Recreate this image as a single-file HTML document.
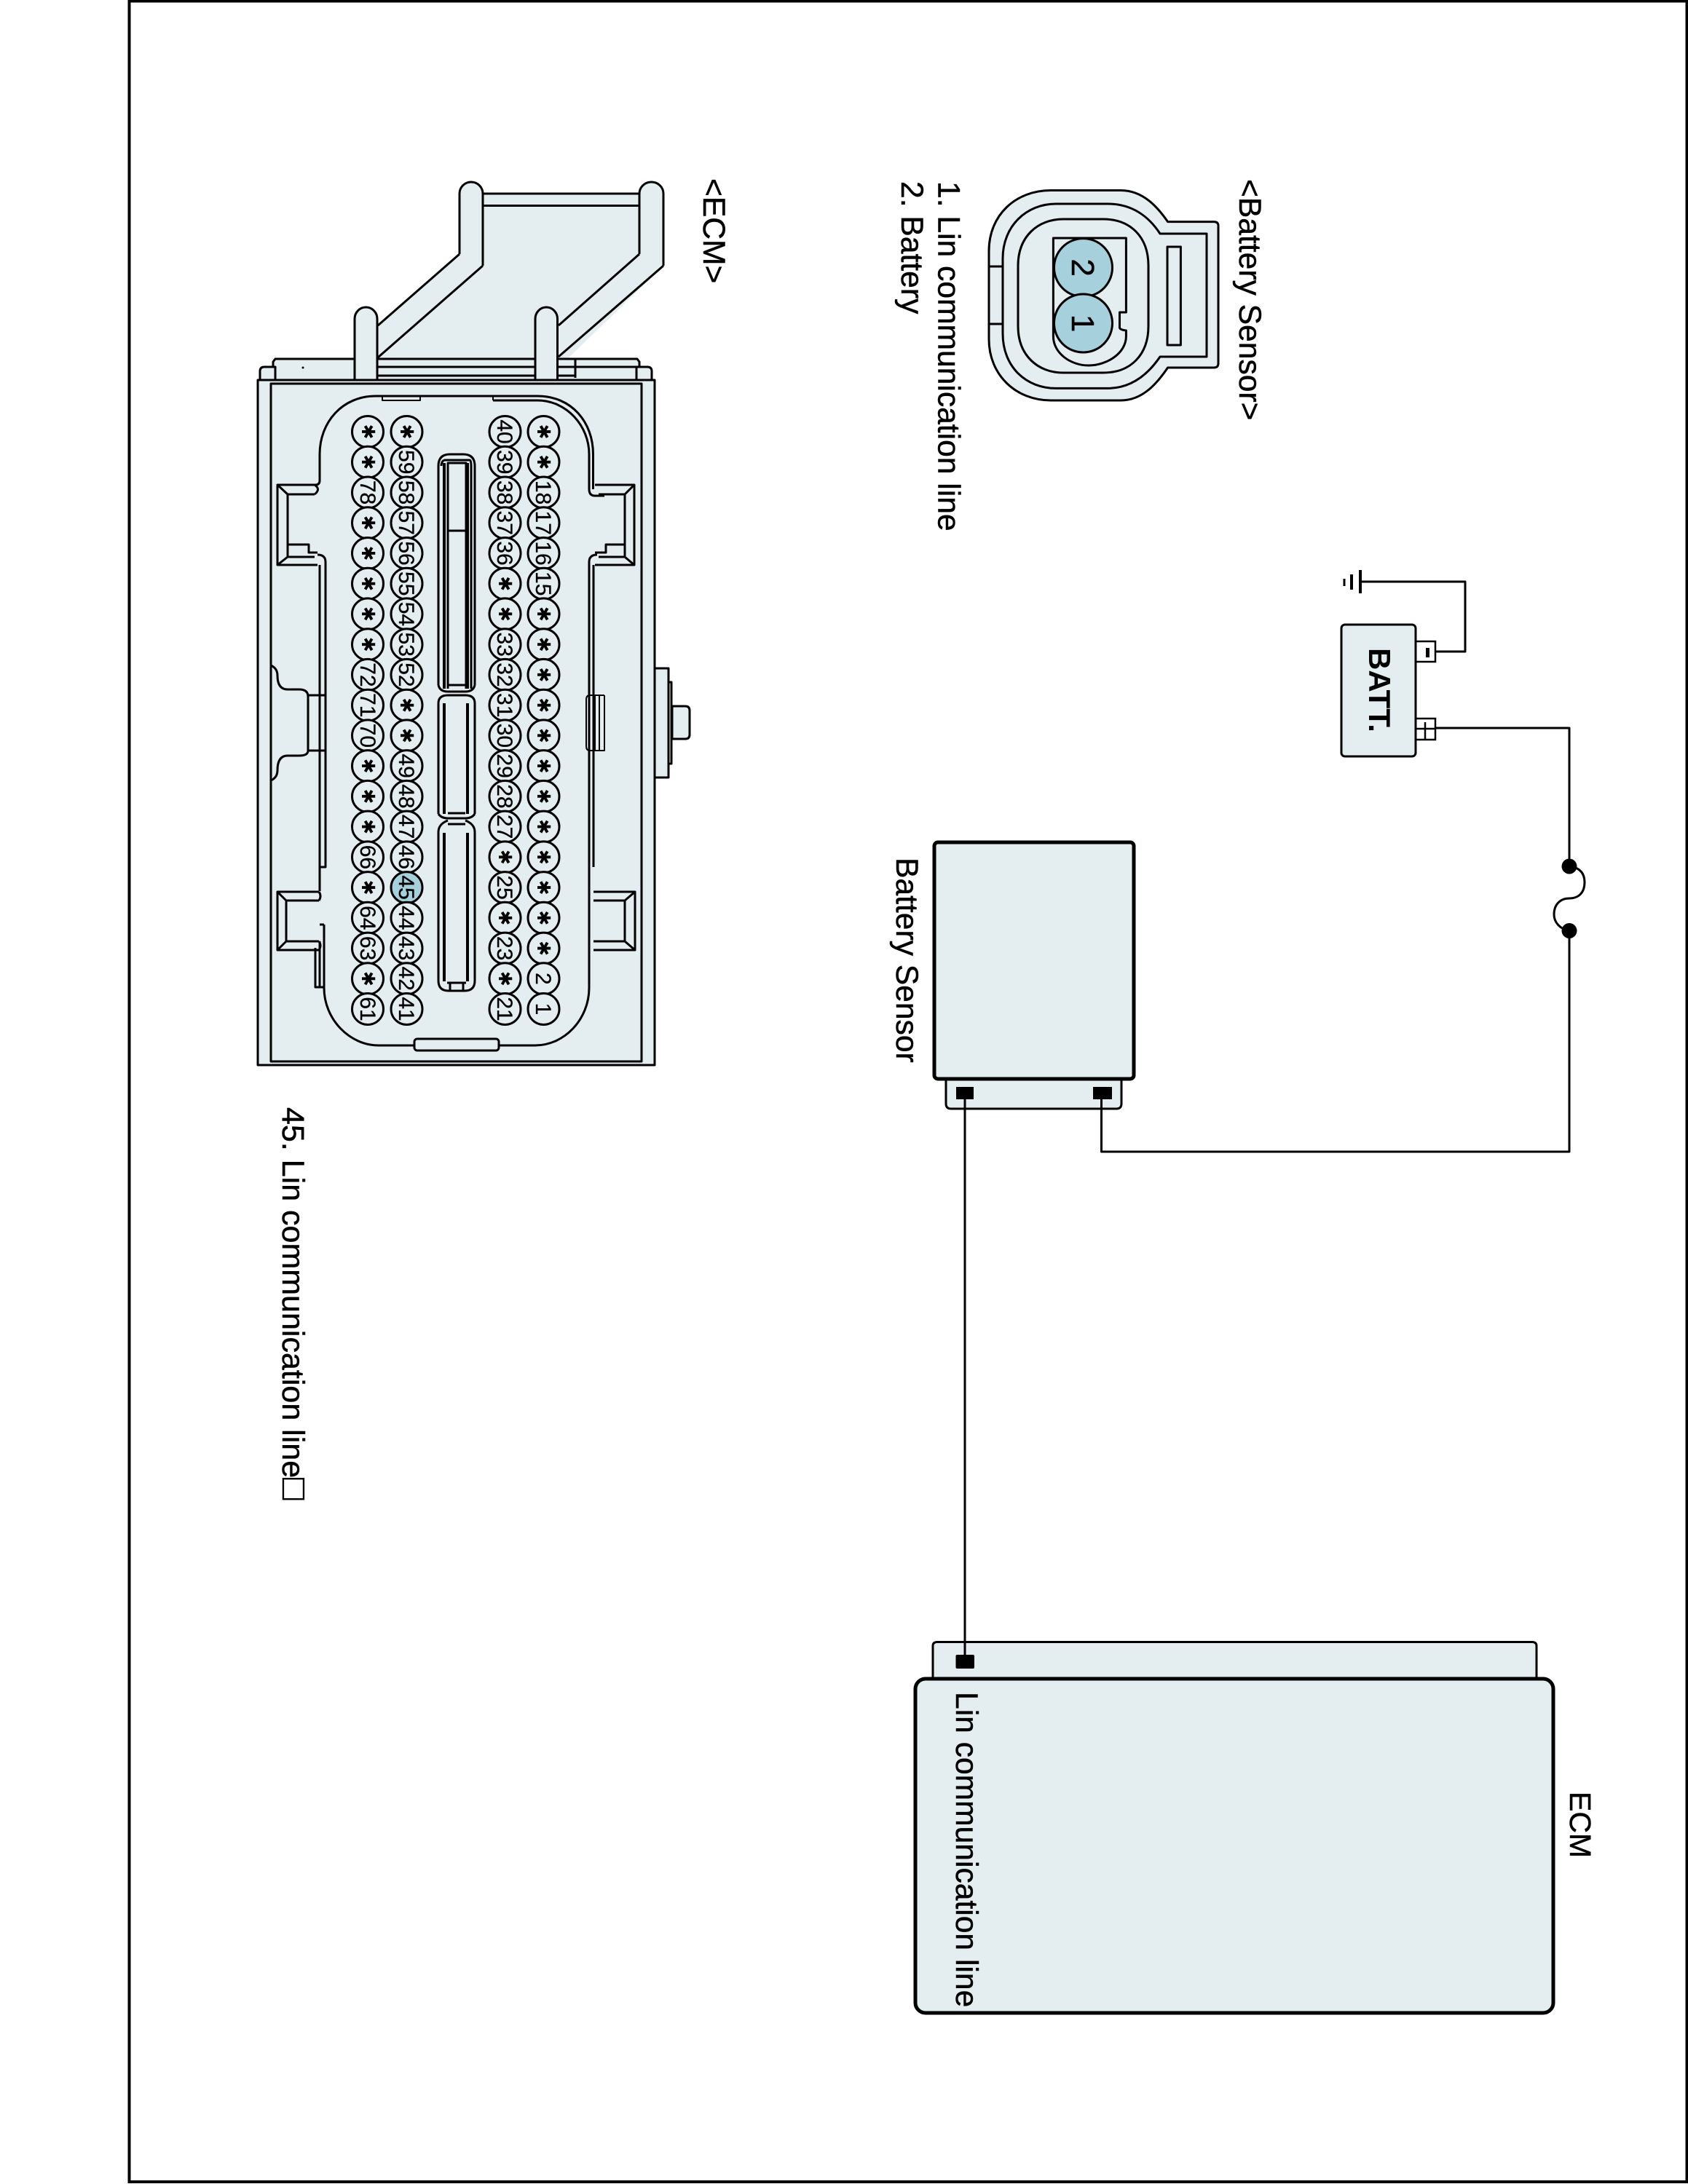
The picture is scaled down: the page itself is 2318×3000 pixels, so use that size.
<!DOCTYPE html>
<html><head><meta charset="utf-8"><title>Battery Sensor circuit</title>
<style>
html,body{margin:0;padding:0;background:#fff;width:2318px;height:3000px;overflow:hidden}
svg{display:block}
text{font-family:"Liberation Sans",sans-serif;fill:#000;stroke:#000;stroke-width:.5}
.l{font-size:42.6px}
.p circle{fill:#e4edef;stroke:#000;stroke-width:3}
.p text{font-size:30px;text-anchor:middle;stroke-width:.3}
.p text.s{font-family:"DejaVu Sans",sans-serif;font-size:25px;stroke-width:0}
.f{fill:#e4edef;stroke:#000;stroke-width:3;stroke-linejoin:round}
.n{fill:none;stroke:#000;stroke-width:3;stroke-linejoin:round}
.h{fill:none;stroke:#000;stroke-width:2;stroke-linejoin:round}
.b{fill:none;stroke:#000;stroke-width:4;stroke-linejoin:round}
</style></head><body>
<svg width="2318" height="3000" viewBox="0 0 2318 3000" xmlns="http://www.w3.org/2000/svg">
<rect x="177.500" y="1.500" width="2139" height="2995.500" fill="none" stroke="#000" stroke-width="4"/>

<!-- Battery sensor connector -->
<path class="f" d="M1358 345C1358 295 1395 261.500 1443 261.500H1539C1570 261.500 1590 285 1603.600 304.600H1667Q1673 304.600 1673 310V499Q1673 505 1667 505H1603.600C1590 525 1570 550 1539 550H1443C1395 550 1358 515 1358 466Z"/>
<path class="n" d="M1377 355C1377 310 1410 280 1450 280H1521C1555 280 1578 298 1593 321H1657V490H1593C1578 512 1555 533.400 1521 533.400H1450C1410 533.400 1377 505 1377 458Z"/>
<path class="n" d="M1398 365C1398 325 1425 301 1460 301H1515C1552 301 1577 325 1577 365V448C1577 488 1552 512 1515 512H1460C1425 512 1398 488 1398 448Z"/>
<path class="n" d="M1358 366H1377M1358 445H1377"/>
<rect class="n" x="1603" y="339" width="18.400" height="135"/>
<path class="n" d="M1446.400 327H1546.400V429H1537.500V450Q1537.500 453 1546.400 454V462C1546.400 485 1520 502 1495 502C1470 502 1446.400 485 1446.400 462Z"/>
<circle cx="1487.500" cy="367.600" r="40" fill="#a5d0dc" stroke="#000" stroke-width="3"/>
<circle cx="1487.500" cy="444" r="40" fill="#a5d0dc" stroke="#000" stroke-width="3"/>
<text transform="translate(1472,367.600) rotate(90)" style="font-size:44px" text-anchor="middle">2</text>
<text transform="translate(1472,444) rotate(90)" style="font-size:44px" text-anchor="middle">1</text>
<text class="l" transform="translate(1702,246) rotate(90)">&lt;Battery Sensor&gt;</text>
<text class="l" transform="translate(1288.500,249) rotate(90)">1. Lin communication line</text>
<text class="l" transform="translate(1238,249) rotate(90)">2. Battery</text>
<text class="l" transform="translate(966,245) rotate(90)">&lt;ECM&gt;</text>

<!-- ECM connector: harness -->
<path d="M631 349L519 447V505H767L911 365V266H663Z" fill="#e4edef"/>
<path class="n" d="M631 349L519 447M663 365L519 491M878 349L767 447M911 365L767 490M663 266H878M663 282.500H878"/>
<path class="f" d="M631 349V266A16 16 0 0 1 663 266V365"/>
<path class="f" d="M878 349V266A16.500 16 0 0 1 911 266V365"/>
<!-- flange -->
<path class="f" d="M375 522V497L378 493H875L878 497V522Z"/>
<path class="f" d="M357 522V510Q357 504 363 504H378V522Z"/>
<path class="f" d="M895 522V510Q895 504 889 504H874V522Z"/>
<path class="n" d="M519 504H874M519 516H790M790 493V519"/>
<circle cx="416" cy="505" r="1.500"/>
<path class="f" d="M487 522V438A15.500 16 0 0 1 518 438V522"/>
<path class="f" d="M735 522V438A15.250 16 0 0 1 765.500 438V522"/>
<!-- side peg -->
<path class="f" d="M923 970H941Q947 970 947 976V1009Q947 1015 941 1015H923Z"/>
<path class="f" d="M899 914V918H918V1068H899V1072"/>
<path class="n" d="M918 937H922V1049H918"/>
<!-- body -->
<rect class="f" x="354" y="522" width="545" height="941"/>
<rect class="n" x="372" y="527" width="509" height="931"/>
<!-- shell -->
<path class="n" d="M436 666H433Q439 666 439 660V624C439 580 470 544 516 544H738C785 544 814.500 580 814.500 624V672"/>
<path class="n" d="M677 550H738C778 550 809 585 809 624V672Q809 681 817 681H830"/>
<path class="h" d="M677 544V550M525 544V550H577V544"/>
<!-- upper windows -->
<path class="n" d="M436 666H381V776H436M432 679H395V765H432M381 666L395 679M381 776L395 765M395 748H424V759H436M432 666Q441 672 432 679"/>
<path class="n" d="M817 666H871V776H817M822 679H858V765H822M871 666L858 679M871 776L858 765M858 748H832V759H817"/>
<!-- side verticals -->
<path class="n" d="M439 776V1224M436 762Q447 762 447 772V1191H439"/>
<path class="n" d="M809 772Q809 762 820 762M809 772V1357M815 776V1191"/>
<!-- lower windows -->
<path class="n" d="M438 1225H381V1305H438M438 1237H393V1293H438M381 1225L393 1237M381 1305L393 1293M438 1225Q442 1231 438 1237M438 1293Q442 1299 438 1305"/>
<path class="n" d="M815 1225H872V1305H815M815 1237H858V1293H815M872 1225L858 1237M872 1305L858 1293"/>
<path class="n" d="M445 1270V1357M439 1270H445M433 1302V1356H445M439 1293V1356"/>
<path class="n" d="M445 1357C445 1400 480 1436 520 1436H569M685 1436H735C775 1436 809 1400 809 1357"/>
<rect class="f" x="569" y="1427" width="116" height="16" rx="4"/>
<!-- left bump -->
<path class="n" d="M372 914Q381 918 381 928Q381 947 395 947H411Q423 947 423 957V1031Q423 1038 411 1038H395Q381 1038 381 1058Q381 1068 372 1072"/>
<path class="n" d="M423 955H447V1031H423"/>
<!-- clip -->
<path class="h" d="M830 955H810Q805 955 805 961V1025Q805 1031 810 1031H830V955M817 955V1031M823 955V1031"/>
<!-- center slots -->
<path class="n" d="M602 941V640Q602 624 618 624H636Q652 624 652 640V941"/>
<path class="b" d="M610 636V946M642 636V946"/>
<path class="n" d="M615 636H640V729H615ZM615 729H640M610 632H645Q647 632 647 640V946M610 632Q606 634 606 640M615 636V946M640 729V946"/>
<path class="n" d="M602 941Q604 950 615 950H639Q650 950 652 941M615 941H639"/>
<path class="n" d="M602 1118V966Q602 955 615 955H639Q652 955 652 966V1118"/>
<path class="b" d="M610 966V1118M642 966V1118"/>
<path class="n" d="M602 1118Q606 1124 615 1124H639Q648 1124 652 1118M615 1117H639M615 1132H639"/>
<path class="n" d="M602 1143Q602 1132 615 1127M652 1143Q652 1132 639 1127M602 1143V1347Q602 1361 616 1361H638Q652 1361 652 1347V1143"/>
<path class="b" d="M610 1144V1348M642 1144V1348"/>
<path class="n" d="M614 1350H640M618 1350V1361M636 1350V1361"/>

<g class="p">
<circle cx="746.500" cy="593" r="21.500"/><text class="s" transform="translate(738,593) rotate(90)">✱</text>
<circle cx="746.500" cy="634.700" r="21.500"/><text class="s" transform="translate(738,634.700) rotate(90)">✱</text>
<circle cx="746.500" cy="676.500" r="21.500"/><text transform="translate(736,676.500) rotate(90)">18</text>
<circle cx="746.500" cy="718.200" r="21.500"/><text transform="translate(736,718.200) rotate(90)">17</text>
<circle cx="746.500" cy="760" r="21.500"/><text transform="translate(736,760) rotate(90)">16</text>
<circle cx="746.500" cy="801.700" r="21.500"/><text transform="translate(736,801.700) rotate(90)">15</text>
<circle cx="746.500" cy="843.400" r="21.500"/><text class="s" transform="translate(738,843.400) rotate(90)">✱</text>
<circle cx="746.500" cy="885.200" r="21.500"/><text class="s" transform="translate(738,885.200) rotate(90)">✱</text>
<circle cx="746.500" cy="926.900" r="21.500"/><text class="s" transform="translate(738,926.900) rotate(90)">✱</text>
<circle cx="746.500" cy="968.700" r="21.500"/><text class="s" transform="translate(738,968.700) rotate(90)">✱</text>
<circle cx="746.500" cy="1010.400" r="21.500"/><text class="s" transform="translate(738,1010.400) rotate(90)">✱</text>
<circle cx="746.500" cy="1052.100" r="21.500"/><text class="s" transform="translate(738,1052.100) rotate(90)">✱</text>
<circle cx="746.500" cy="1093.900" r="21.500"/><text class="s" transform="translate(738,1093.900) rotate(90)">✱</text>
<circle cx="746.500" cy="1135.600" r="21.500"/><text class="s" transform="translate(738,1135.600) rotate(90)">✱</text>
<circle cx="746.500" cy="1177.400" r="21.500"/><text class="s" transform="translate(738,1177.400) rotate(90)">✱</text>
<circle cx="746.500" cy="1219.100" r="21.500"/><text class="s" transform="translate(738,1219.100) rotate(90)">✱</text>
<circle cx="746.500" cy="1260.800" r="21.500"/><text class="s" transform="translate(738,1260.800) rotate(90)">✱</text>
<circle cx="746.500" cy="1302.600" r="21.500"/><text class="s" transform="translate(738,1302.600) rotate(90)">✱</text>
<circle cx="746.500" cy="1344.300" r="21.500"/><text transform="translate(736,1344.300) rotate(90)">2</text>
<circle cx="746.500" cy="1386" r="21.500"/><text transform="translate(736,1386) rotate(90)">1</text>

<circle cx="693.500" cy="593" r="21.500"/><text transform="translate(683,593) rotate(90)">40</text>
<circle cx="693.500" cy="634.700" r="21.500"/><text transform="translate(683,634.700) rotate(90)">39</text>
<circle cx="693.500" cy="676.500" r="21.500"/><text transform="translate(683,676.500) rotate(90)">38</text>
<circle cx="693.500" cy="718.200" r="21.500"/><text transform="translate(683,718.200) rotate(90)">37</text>
<circle cx="693.500" cy="760" r="21.500"/><text transform="translate(683,760) rotate(90)">36</text>
<circle cx="693.500" cy="801.700" r="21.500"/><text class="s" transform="translate(685,801.700) rotate(90)">✱</text>
<circle cx="693.500" cy="843.400" r="21.500"/><text class="s" transform="translate(685,843.400) rotate(90)">✱</text>
<circle cx="693.500" cy="885.200" r="21.500"/><text transform="translate(683,885.200) rotate(90)">33</text>
<circle cx="693.500" cy="926.900" r="21.500"/><text transform="translate(683,926.900) rotate(90)">32</text>
<circle cx="693.500" cy="968.700" r="21.500"/><text transform="translate(683,968.700) rotate(90)">31</text>
<circle cx="693.500" cy="1010.400" r="21.500"/><text transform="translate(683,1010.400) rotate(90)">30</text>
<circle cx="693.500" cy="1052.100" r="21.500"/><text transform="translate(683,1052.100) rotate(90)">29</text>
<circle cx="693.500" cy="1093.900" r="21.500"/><text transform="translate(683,1093.900) rotate(90)">28</text>
<circle cx="693.500" cy="1135.600" r="21.500"/><text transform="translate(683,1135.600) rotate(90)">27</text>
<circle cx="693.500" cy="1177.400" r="21.500"/><text class="s" transform="translate(685,1177.400) rotate(90)">✱</text>
<circle cx="693.500" cy="1219.100" r="21.500"/><text transform="translate(683,1219.100) rotate(90)">25</text>
<circle cx="693.500" cy="1260.800" r="21.500"/><text class="s" transform="translate(685,1260.800) rotate(90)">✱</text>
<circle cx="693.500" cy="1302.600" r="21.500"/><text transform="translate(683,1302.600) rotate(90)">23</text>
<circle cx="693.500" cy="1344.300" r="21.500"/><text class="s" transform="translate(685,1344.300) rotate(90)">✱</text>
<circle cx="693.500" cy="1386" r="21.500"/><text transform="translate(683,1386) rotate(90)">21</text>

<circle cx="558.500" cy="593" r="21.500"/><text class="s" transform="translate(550,593) rotate(90)">✱</text>
<circle cx="558.500" cy="634.700" r="21.500"/><text transform="translate(548,634.700) rotate(90)">59</text>
<circle cx="558.500" cy="676.500" r="21.500"/><text transform="translate(548,676.500) rotate(90)">58</text>
<circle cx="558.500" cy="718.200" r="21.500"/><text transform="translate(548,718.200) rotate(90)">57</text>
<circle cx="558.500" cy="760" r="21.500"/><text transform="translate(548,760) rotate(90)">56</text>
<circle cx="558.500" cy="801.700" r="21.500"/><text transform="translate(548,801.700) rotate(90)">55</text>
<circle cx="558.500" cy="843.400" r="21.500"/><text transform="translate(548,843.400) rotate(90)">54</text>
<circle cx="558.500" cy="885.200" r="21.500"/><text transform="translate(548,885.200) rotate(90)">53</text>
<circle cx="558.500" cy="926.900" r="21.500"/><text transform="translate(548,926.900) rotate(90)">52</text>
<circle cx="558.500" cy="968.700" r="21.500"/><text class="s" transform="translate(550,968.700) rotate(90)">✱</text>
<circle cx="558.500" cy="1010.400" r="21.500"/><text class="s" transform="translate(550,1010.400) rotate(90)">✱</text>
<circle cx="558.500" cy="1052.100" r="21.500"/><text transform="translate(548,1052.100) rotate(90)">49</text>
<circle cx="558.500" cy="1093.900" r="21.500"/><text transform="translate(548,1093.900) rotate(90)">48</text>
<circle cx="558.500" cy="1135.600" r="21.500"/><text transform="translate(548,1135.600) rotate(90)">47</text>
<circle cx="558.500" cy="1177.400" r="21.500"/><text transform="translate(548,1177.400) rotate(90)">46</text>
<circle cx="558.500" cy="1219.100" r="21.500" style="fill:#a5d0dc"/><text transform="translate(548,1219.100) rotate(90)">45</text>
<circle cx="558.500" cy="1260.800" r="21.500"/><text transform="translate(548,1260.800) rotate(90)">44</text>
<circle cx="558.500" cy="1302.600" r="21.500"/><text transform="translate(548,1302.600) rotate(90)">43</text>
<circle cx="558.500" cy="1344.300" r="21.500"/><text transform="translate(548,1344.300) rotate(90)">42</text>
<circle cx="558.500" cy="1386" r="21.500"/><text transform="translate(548,1386) rotate(90)">41</text>

<circle cx="505" cy="593" r="21.500"/><text class="s" transform="translate(497,593) rotate(90)">✱</text>
<circle cx="505" cy="634.700" r="21.500"/><text class="s" transform="translate(497,634.700) rotate(90)">✱</text>
<circle cx="505" cy="676.500" r="21.500"/><text transform="translate(495,676.500) rotate(90)">78</text>
<circle cx="505" cy="718.200" r="21.500"/><text class="s" transform="translate(497,718.200) rotate(90)">✱</text>
<circle cx="505" cy="760" r="21.500"/><text class="s" transform="translate(497,760) rotate(90)">✱</text>
<circle cx="505" cy="801.700" r="21.500"/><text class="s" transform="translate(497,801.700) rotate(90)">✱</text>
<circle cx="505" cy="843.400" r="21.500"/><text class="s" transform="translate(497,843.400) rotate(90)">✱</text>
<circle cx="505" cy="885.200" r="21.500"/><text class="s" transform="translate(497,885.200) rotate(90)">✱</text>
<circle cx="505" cy="926.900" r="21.500"/><text transform="translate(495,926.900) rotate(90)">72</text>
<circle cx="505" cy="968.700" r="21.500"/><text transform="translate(495,968.700) rotate(90)">71</text>
<circle cx="505" cy="1010.400" r="21.500"/><text transform="translate(495,1010.400) rotate(90)">70</text>
<circle cx="505" cy="1052.100" r="21.500"/><text class="s" transform="translate(497,1052.100) rotate(90)">✱</text>
<circle cx="505" cy="1093.900" r="21.500"/><text class="s" transform="translate(497,1093.900) rotate(90)">✱</text>
<circle cx="505" cy="1135.600" r="21.500"/><text class="s" transform="translate(497,1135.600) rotate(90)">✱</text>
<circle cx="505" cy="1177.400" r="21.500"/><text transform="translate(495,1177.400) rotate(90)">66</text>
<circle cx="505" cy="1219.100" r="21.500"/><text class="s" transform="translate(497,1219.100) rotate(90)">✱</text>
<circle cx="505" cy="1260.800" r="21.500"/><text transform="translate(495,1260.800) rotate(90)">64</text>
<circle cx="505" cy="1302.600" r="21.500"/><text transform="translate(495,1302.600) rotate(90)">63</text>
<circle cx="505" cy="1344.300" r="21.500"/><text class="s" transform="translate(497,1344.300) rotate(90)">✱</text>
<circle cx="505" cy="1386" r="21.500"/><text transform="translate(495,1386) rotate(90)">61</text>
</g>

<text transform="translate(388,1521) rotate(90)" style="font-size:43px">45. Lin communication line<tspan style="font-size:50px">□</tspan></text>

<!-- Ground & battery -->
<path class="n" d="M1971 895H2012V799H1868"/>
<path class="b" d="M1868 783V815M1856 789V810"/>
<path class="n" d="M1846 795V805"/>
<rect x="1944" y="881" width="27" height="28" fill="#fff" stroke="#000" stroke-width="2.500"/>
<rect x="1958" y="890" width="5" height="13" fill="#000"/>
<rect x="1944" y="987" width="27" height="29" fill="#fff" stroke="#000" stroke-width="2.500"/>
<path fill="none" stroke="#000" stroke-width="2.500" d="M1944 1001H1971M1957 992V1015"/>
<rect class="f" x="1842" y="858" width="102" height="181" rx="5"/>
<text transform="translate(1880,890) rotate(90)" style="font-size:42px;font-weight:700;stroke-width:0">BATT.</text>

<!-- power wires -->
<path class="n" d="M1971 1000H2155V1190"/>
<circle cx="2155" cy="1190" r="10.500"/>
<circle cx="2155" cy="1278.500" r="10.500"/>
<path class="n" d="M2155 1190C2172 1192 2176 1202 2176 1212C2176 1226 2168 1234 2155 1234C2142 1234 2134 1243 2134 1256C2134 1267 2142 1276 2155 1278.500"/>

<!-- Battery Sensor box -->
<path class="f" d="M1299 1482H1540V1516Q1540 1523 1533 1523H1306Q1299 1523 1299 1516Z"/>
<rect x="1283" y="1157" width="274" height="325" rx="5" fill="#e4edef" stroke="#000" stroke-width="5"/>
<text class="l" transform="translate(1231,1178) rotate(90)">Battery Sensor</text>

<!-- ECM box -->
<path class="f" d="M1281 2304V2261Q1281 2255.500 1287 2255.500H2104Q2110 2255.500 2110 2261V2304"/>
<rect x="1257" y="2306" width="876" height="459" rx="14" fill="#e4edef" stroke="#000" stroke-width="5"/>
<text class="l" transform="translate(1313,2324) rotate(90)">Lin communication line</text>
<text transform="translate(2156,2461) rotate(90)" style="font-size:41px">ECM</text>

<!-- signal wires and pins over the boxes -->
<path class="n" d="M1512.500 1500V1582H2155V1278"/>
<path class="n" d="M1325 1500V2276"/>
<rect x="1313" y="1493" width="24" height="17" fill="#000"/>
<rect x="1501" y="1493" width="26" height="17" fill="#000"/>
<rect x="1312.500" y="2273" width="25.500" height="19" rx="2" fill="#000"/>
</svg>
</body></html>
